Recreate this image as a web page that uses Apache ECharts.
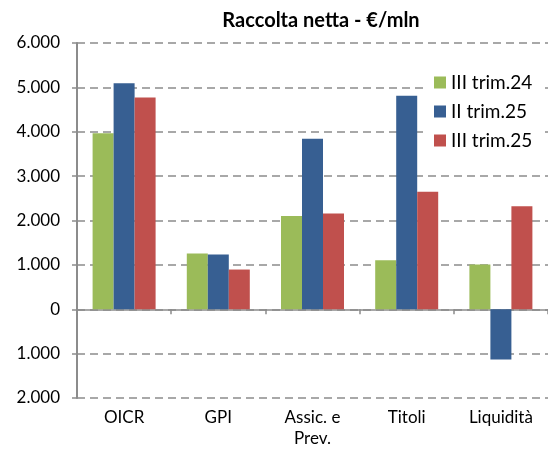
<!DOCTYPE html>
<html>
<head>
<meta charset="utf-8">
<script src="https://cdn.jsdelivr.net/npm/echarts@6/dist/echarts.min.js"></script>
<style>
  html, body { margin: 0; padding: 0; background: #fff; }
  #chart { width: 548px; height: 452px; }
</style>
</head>
<body>
<div id="chart"></div>
<script>
// dati
const categories = ['OICR', 'GPI', 'Assic. e\nPrev.', 'Titoli', 'Liquidità'];
const seriesNames = ['III trim.24', 'II trim.25', 'III trim.25'];
const trim24III = [3965, 1255, 2100, 1105, 1010];
const trim25II = [5095, 1235, 3840, 4810, -1135];
const trim25III = [4770, 895, 2160, 2650, 2320];
const colors = ['#9BBB59', '#375F92', '#C0504D'];

function formatTick(v) {
    // le etichette negative sono senza segno
    let s = String(Math.abs(v));
    return s.replace(/\B(?=(\d{3})+(?!\d))/g, '.');
}

var chartDom = document.getElementById('chart');
var myChart = echarts.init(chartDom);
var font = 'Lato, "Open Sans", sans-serif';
var option = {
    animation: false,
    color: colors,
    title: {
        text: 'Raccolta netta - €/mln',
        left: 316,
        textAlign: 'center',
        top: 6,
        textStyle: { fontFamily: font, fontSize: 20, fontWeight: 'bold', color: '#000' }
    },
    legend: {
        orient: 'vertical',
        left: 428,
        top: 67,
        icon: 'rect',
        itemWidth: 12,
        itemHeight: 12,
        itemGap: 10,
        padding: [6, 10, 8, 6],
        backgroundColor: '#fff',
        textStyle: { fontFamily: font, fontSize: 19, color: '#000' },
        data: seriesNames
    },
    grid: { left: 77, right: -2, top: 43, bottom: 54 },
    xAxis: [
        {
            type: 'category',
            data: categories,
            axisLine: { onZero: true, lineStyle: { color: '#8c8c8c', width: 1.5 } },
            axisTick: { show: true, length: 5, lineStyle: { color: '#8c8c8c', width: 1.5 } },
            axisLabel: { show: false }
        },
        {
            type: 'category',
            data: categories,
            position: 'bottom',
            axisLine: { show: false, onZero: false },
            axisTick: { show: false },
            axisLabel: { fontFamily: font, fontSize: 17, color: '#000', margin: 9, lineHeight: 21 }
        }
    ],
    yAxis: {
        type: 'value',
        min: -2000,
        max: 6000,
        interval: 1000,
        axisLine: { show: true, lineStyle: { color: '#8c8c8c', width: 2 } },
        axisTick: { show: true, length: 5, lineStyle: { color: '#8c8c8c', width: 1.5 } },
        axisLabel: { fontFamily: font, fontSize: 17, color: '#000', margin: 17, formatter: formatTick },
        splitLine: { lineStyle: { color: '#8c8c8c', width: 1.5, type: [8, 5] } }
    },
    series: [
        { name: seriesNames[0], type: 'bar', data: trim24III, barWidth: 21, barGap: '0%' },
        { name: seriesNames[1], type: 'bar', data: trim25II, barWidth: 21, barGap: '0%' },
        { name: seriesNames[2], type: 'bar', data: trim25III, barWidth: 21, barGap: '0%' }
    ]
};
option && myChart.setOption(option);
</script>
</body>
</html>
